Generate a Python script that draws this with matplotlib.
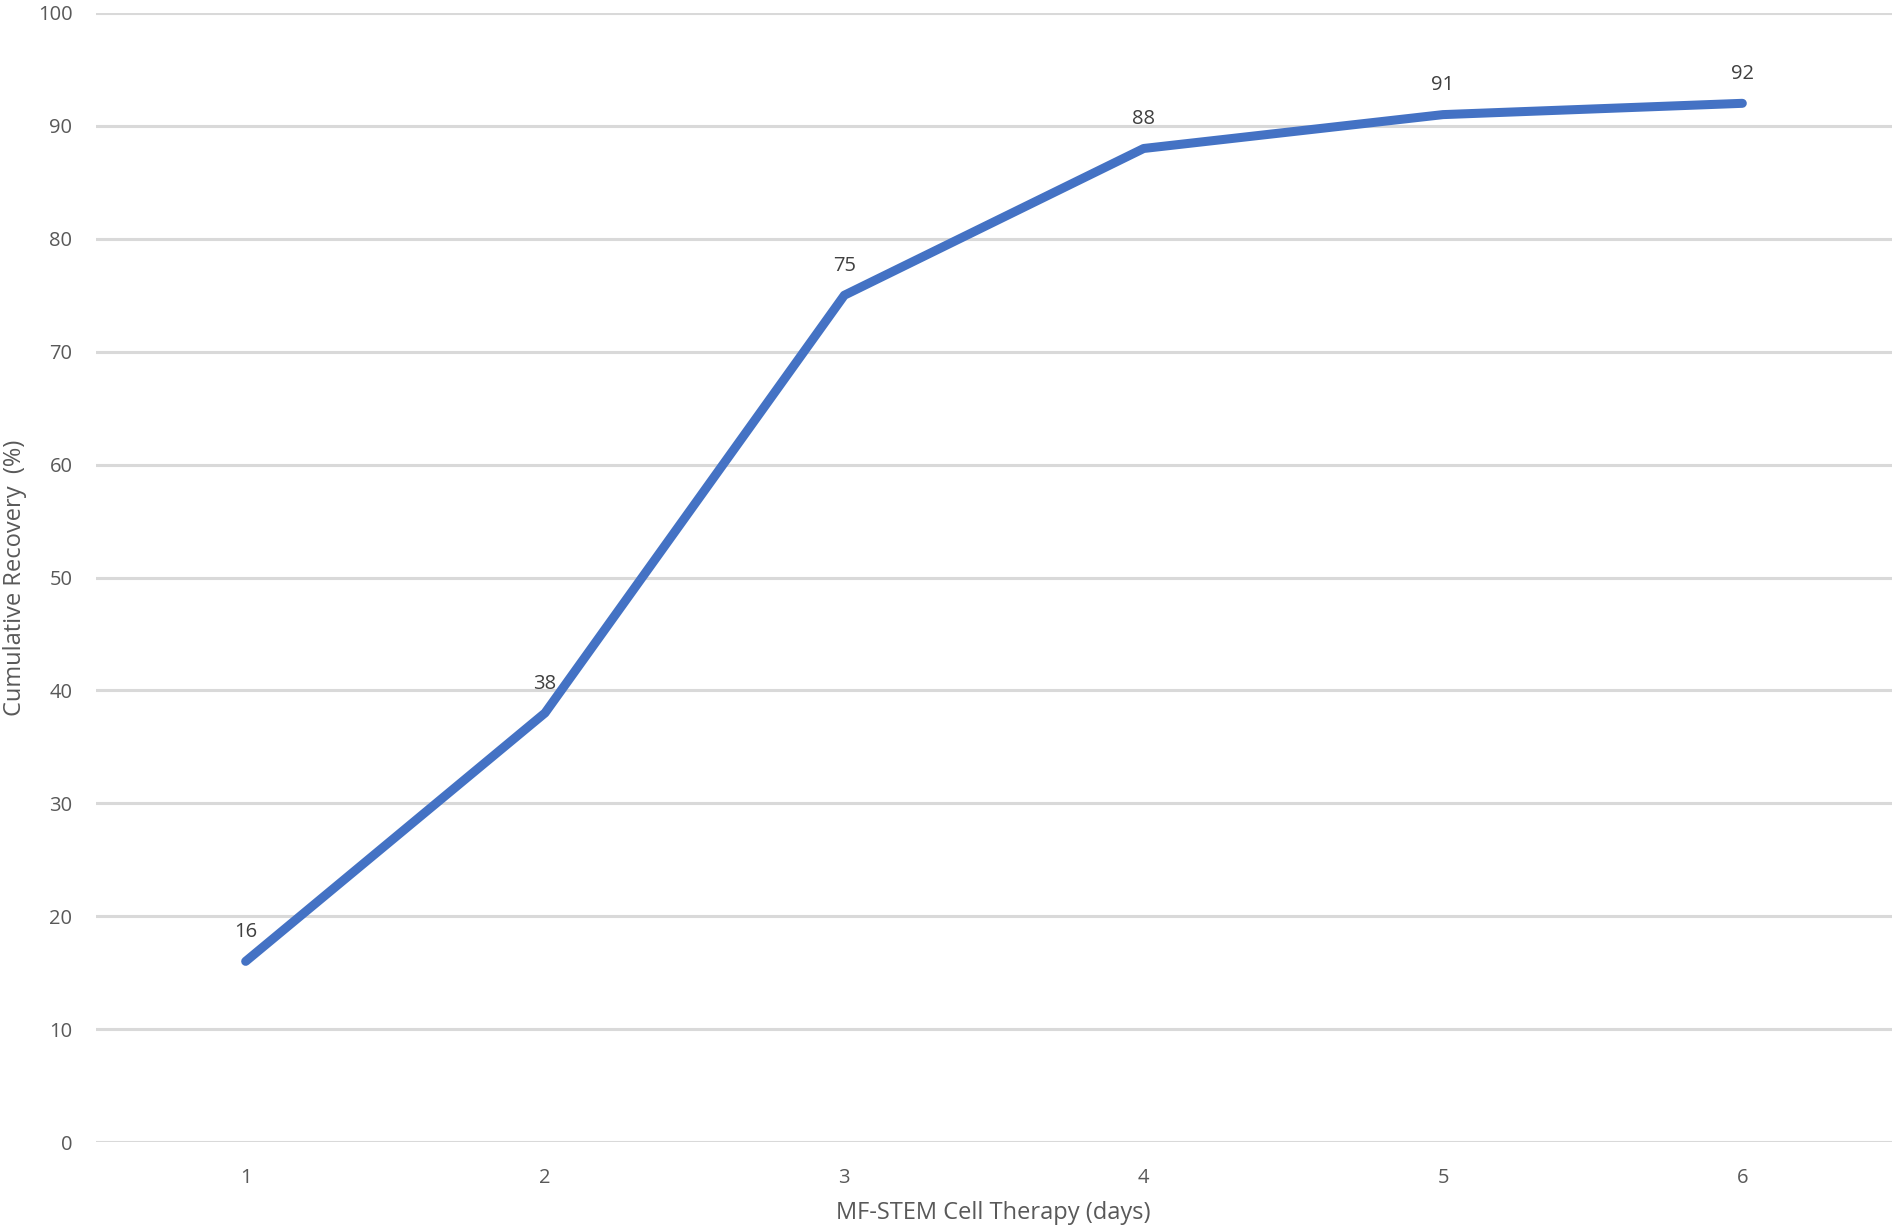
import matplotlib
matplotlib.use("Agg")
import matplotlib.pyplot as plt

days = [1, 2, 3, 4, 5, 6]
recovery = [16, 38, 75, 88, 91, 92]
y_ticks = [0, 10, 20, 30, 40, 50, 60, 70, 80, 90, 100]

plt.rcParams['font.family'] = ['Open Sans', 'DejaVu Sans']

W, H = 1892, 1229
fig = plt.figure(figsize=(W/100, H/100), dpi=100)
ax = fig.add_axes([96/W, 1 - 1142/H, (W-96)/W, (1142-13)/H])

for t in y_ticks:
    ax.axhline(t, color='#D9D9D9', lw=2.2, zorder=1)

ax.plot(days, recovery, color='#4472C4', lw=6.5, solid_capstyle='round', solid_joinstyle='round', zorder=3)
for d, r in zip(days, recovery):
    ax.annotate(str(r), (d, r), xytext=(0, 14), textcoords='offset points',
                ha='center', va='bottom', fontsize=14.5, color='#404040')

ax.set_xlim(0.5, 6.5)
ax.set_ylim(0, 100)
ax.set_xticks(days)
ax.set_xticklabels([str(d) for d in days])
ax.set_yticks(y_ticks)
ax.tick_params(axis='both', length=0, labelsize=14.5, labelcolor='#595959')
ax.tick_params(axis='x', pad=19)
ax.tick_params(axis='y', pad=17)
for s in ax.spines.values():
    s.set_visible(False)

fig.text(993/W, 1 - 1213/H, 'MF-STEM Cell Therapy (days)', fontsize=17, color='#595959',
         ha='center', va='center')
fig.text(15/W, 1 - 578/H, 'Cumulative Recovery  (%)', fontsize=17, color='#595959',
         ha='center', va='center', rotation=90)

fig.savefig('out.png', dpi=100)
